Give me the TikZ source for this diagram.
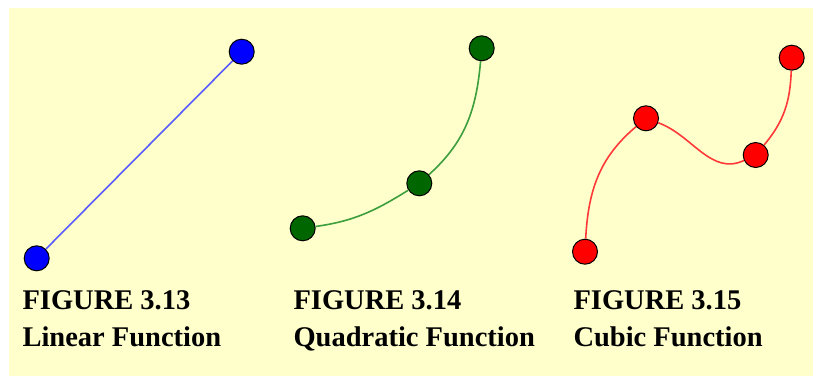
\documentclass[tikz,border=0pt]{standalone}
\usepackage{fontspec}
\setmainfont{Liberation Serif}
\usepackage{xcolor}
\usepackage{tikz}
\usetikzlibrary{positioning}
\definecolor{panelbg}{HTML}{FFFFCC}
\definecolor{linblue}{HTML}{0000FF}
\definecolor{linline}{HTML}{5A5AFF}
\definecolor{quadgreen}{HTML}{006600}
\definecolor{quadline}{HTML}{3C9E3C}
\definecolor{cubred}{HTML}{FF0000}
\definecolor{cubline}{HTML}{FF3838}

\begin{document}
\begin{tikzpicture}[
  x=1pt,y=1pt,
  dot/.style={circle,draw=black,line width=1pt,minimum size=25pt,inner sep=0pt},
  bluedot/.style={dot,fill=linblue},
  greendot/.style={dot,fill=quadgreen},
  reddot/.style={dot,fill=cubred},
  curve/.style={line width=1.6pt},
  caption/.style={anchor=base west,inner sep=0pt,font=\fontsize{28.5}{34}\selectfont\bfseries}]

  \useasboundingbox (0,0) rectangle (813,376);
  \fill[panelbg] (9,0) rectangle (813,368);

  % linear
  \node[bluedot] (b1) at (36.7,117.7) {};
  \node[bluedot] (b2) at (241.7,324.3) {};
  \draw[curve,linline] (b1) -- (b2);

  % quadratic
  \node[greendot] (g1) at (302.7,147.7) {};
  \node[greendot] (g2) at (419.3,192.7) {};
  \node[greendot] (g3) at (481.7,327.7) {};
  \draw[curve,quadline] (g1) to[out=8,in=212] (g2);
  \draw[curve,quadline] (g2) to[out=42,in=265] (g3);

  % cubic
  \node[reddot] (r1) at (585,124.3) {};
  \node[reddot] (r2) at (646,257.7) {};
  \node[reddot] (r3) at (755.7,221) {};
  \node[reddot] (r4) at (791.7,318.3) {};
  \draw[curve,cubline] (r1) to[out=87,in=220] (r2);
  \draw[curve,cubline] (r2) to[out=-20,in=205] (r3);
  \draw[curve,cubline] (r3) to[out=50,in=268] (r4);

  % captions
  \node[caption] (fig13) at (22.3,66.7) {FIGURE 3.13};
  \node[caption] (name13) at ([yshift=-36.7pt]fig13.base west) {Linear Function};
  \node[caption] (fig14) at (293.3,66.7) {FIGURE 3.14};
  \node[caption] (name14) at ([yshift=-36.7pt]fig14.base west) {Quadratic Function};
  \node[caption] (fig15) at (573.3,66.7) {FIGURE 3.15};
  \node[caption] (name15) at ([yshift=-36.7pt]fig15.base west) {Cubic Function};

\end{tikzpicture}
\end{document}
